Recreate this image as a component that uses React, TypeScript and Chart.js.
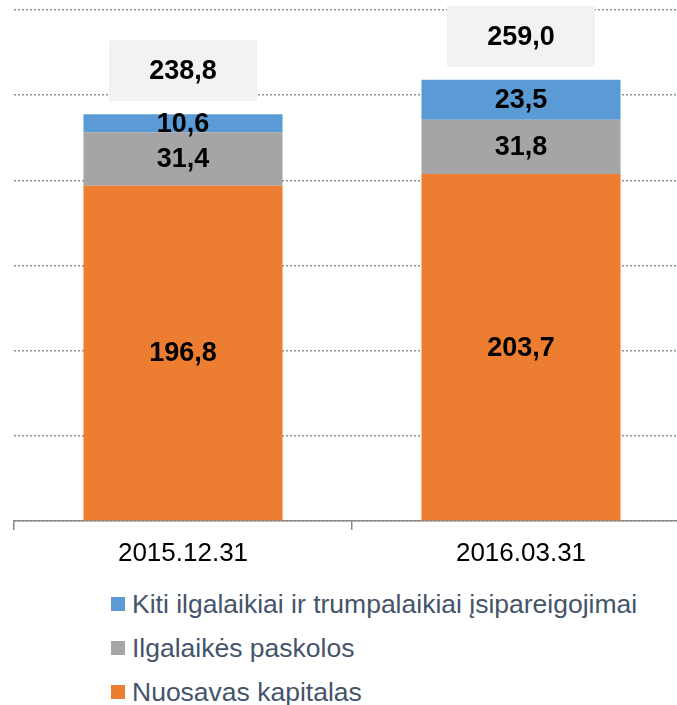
import React, { useEffect, useRef } from "react";
import { Chart, registerables } from "chart.js";

Chart.register(...registerables);

const categories = ["2015.12.31", "2016.03.31"];
const equity = [196.8, 203.7];
const loans = [31.4, 31.8];
const otherLiabilities = [10.6, 23.5];
const seriesNames = [
  "Nuosavas kapitalas",
  "Ilgalaikės paskolos",
  "Kiti ilgalaikiai ir trumpalaikiai įsipareigojimai",
];
const seriesColors = ["#ED7D31", "#A5A5A5", "#5B9BD5"];
const yTicks = [0, 50, 100, 150, 200, 250, 300];

const FONT = "'Liberation Sans', Arial, sans-serif";
const fmt = (v: number) => v.toFixed(1).replace(".", ",");

const labelsPlugin = {
  id: "valueLabels",
  afterDatasetsDraw(chart: any) {
    const ctx = chart.ctx;
    ctx.save();
    ctx.font = `bold 27px ${FONT}`;
    ctx.fillStyle = "#000";
    ctx.textAlign = "center";
    ctx.textBaseline = "middle";
    chart.data.datasets.forEach((ds: any, di: number) => {
      const meta = chart.getDatasetMeta(di);
      meta.data.forEach((bar: any, i: number) => {
        const v = ds.data[i];
        const cy = (bar.y + bar.base) / 2;
        ctx.fillText(fmt(v), bar.x, cy + 1);
      });
    });
    // totals
    const yScale = chart.scales.y;
    const firstMeta = chart.getDatasetMeta(0);
    categories.forEach((_, i) => {
      const total = chart.data.datasets.reduce((s: number, ds: any) => s + ds.data[i], 0);
      const yTop = yScale.getPixelForValue(total);
      const x = firstMeta.data[i].x;
      const w = 148;
      const h = 61;
      const bottom = yTop - 13;
      ctx.fillStyle = "#F2F2F2";
      ctx.fillRect(x - w / 2, bottom - h, w, h);
      ctx.fillStyle = "#000";
      ctx.fillText(fmt(total), x, bottom - h / 2 + 1);
    });
    ctx.restore();
  },
};

export default function App() {
  const ref = useRef<HTMLCanvasElement>(null);
  useEffect(() => {
    if (!ref.current) return;
    const data = [equity, loans, otherLiabilities];
    const chart = new Chart(ref.current, {
      type: "bar",
      data: {
        labels: categories,
        datasets: data.map((d, i) => ({
          label: seriesNames[i],
          data: d,
          backgroundColor: seriesColors[i],
          borderWidth: 0,
          categoryPercentage: 1,
          barPercentage: 0.589,
        })),
      },
      options: {
        responsive: false,
        animation: false,
        devicePixelRatio: 1,
        layout: { padding: { left: 14, top: 10, right: 0, bottom: 0 } },
        plugins: { legend: { display: false }, tooltip: { enabled: false } },
        scales: {
          x: {
            stacked: true,
            offset: true,
            grid: {
              display: true,
              drawOnChartArea: false,
              drawTicks: true,
              tickLength: 9,
              color: "#8A8A8A",
              lineWidth: 1.5,
              offset: true,
            },
            border: { display: true, color: "#8A8A8A", width: 1.5 },
            ticks: {
              color: "#000",
              font: { size: 26, family: FONT },
              padding: 8,
              maxRotation: 0,
            },
            afterFit: (s: any) => {
              s.height = 59;
            },
          },
          y: {
            stacked: true,
            min: yTicks[0],
            max: yTicks[yTicks.length - 1],
            afterBuildTicks: (s: any) => {
              s.ticks = yTicks.map((v) => ({ value: v }));
            },
            ticks: { display: false },
            grid: { color: "#8F8F8F", drawTicks: false, lineWidth: 1.5 },
            border: { display: false, dash: [2, 2] },
            afterFit: (s: any) => {
              s.width = 0;
            },
          },
        },
      },
      plugins: [labelsPlugin],
    });
    return () => chart.destroy();
  }, []);

  const legendRows = [2, 1, 0];
  return (
    <div
      style={{
        position: "fixed",
        left: 0,
        top: 0,
        width: 677,
        height: 705,
        overflow: "hidden",
        background: "#fff",
      }}
    >
      <canvas ref={ref} width={690} height={580} style={{ position: "absolute", left: 0, top: 0 }} />
      {legendRows.map((si, r) => (
        <div
          key={si}
          style={{
            position: "absolute",
            left: 111,
            top: 589 + r * 44,
            height: 30,
            display: "flex",
            alignItems: "center",
            whiteSpace: "nowrap",
          }}
        >
          <span
            style={{
              display: "inline-block",
              width: 14,
              height: 14,
              background: seriesColors[si],
              marginRight: 7,
            }}
          />
          <span
            style={{
              fontFamily: FONT,
              fontSize: 26.5,
              lineHeight: "30px",
              color: "#44546A",
            }}
          >
            {seriesNames[si]}
          </span>
        </div>
      ))}
    </div>
  );
}
